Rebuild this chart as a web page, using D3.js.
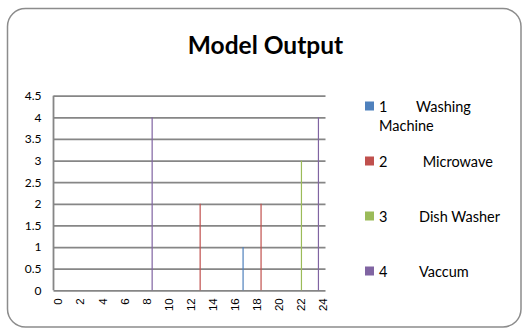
<!DOCTYPE html>
<html>
<head>
<meta charset="utf-8">
<script src="https://cdn.jsdelivr.net/npm/d3@7"></script>
<style>
  html, body { margin: 0; padding: 0; background: #fff; }
  svg { display: block; }
</style>
</head>
<body>
<svg id="chart" width="522" height="329"></svg>
<script>
// ---- data ----
const title = "Model Output";
const seriesNames = ["Washing Machine", "Microwave", "Dish Washer", "Vaccum"];
const seriesIds = ["1", "2", "3", "4"];
const seriesColors = ["#4F81BD", "#C0504D", "#9BBB59", "#8064A2"];
const washingX = [16.78];
const washingY = [1];
const microwaveX = [12.89, 18.41];
const microwaveY = [2, 2];
const dishX = [22.07];
const dishY = [3];
const vaccumX = [8.54, 23.61];
const vaccumY = [4, 4];
const xTicks = [0, 2, 4, 6, 8, 10, 12, 14, 16, 18, 20, 22, 24];
const yTicks = [0, 0.5, 1, 1.5, 2, 2.5, 3, 3.5, 4, 4.5];

// ---- layout ----
const svg = d3.select("#chart");
const plot = { left: 53.5, right: 325.5, top: 95.7, bottom: 290.3 };

const x = d3.scaleLinear().domain([-0.4, 24.25]).range([plot.left, plot.right]);
const y = d3.scaleLinear().domain([0, 4.5]).range([plot.bottom, plot.top]);

// outer rounded frame
svg.append("rect")
  .attr("x", 7.5).attr("y", 8.5)
  .attr("width", 513.5).attr("height", 318.5)
  .attr("rx", 18).attr("ry", 18)
  .attr("fill", "#fff")
  .attr("stroke", "#8c8c8c").attr("stroke-width", 1.5);

// title
svg.append("text")
  .attr("x", 265.5).attr("y", 54)
  .attr("text-anchor", "middle")
  .attr("font-family", "Lato, 'Open Sans', sans-serif")
  .attr("font-weight", "bold")
  .attr("font-size", 24.5)
  .attr("fill", "#000")
  .text(title);

// gridlines via y axis
const yAxis = d3.axisLeft(y).tickValues(yTicks)
  .tickSize(-(plot.right - plot.left))
  .tickFormat(d => String(d));
const gy = svg.append("g").attr("transform", `translate(${plot.left},0)`).call(yAxis);
gy.select(".domain").remove();
gy.selectAll(".tick line").attr("stroke", "#868686").attr("stroke-width", 1.8);
gy.selectAll(".tick text")
  .attr("x", -12)
  .attr("font-family", "Lato, 'Open Sans', sans-serif")
  .attr("font-size", 12)
  .attr("fill", "#000");

// left axis line
svg.append("line")
  .attr("x1", plot.left).attr("x2", plot.left)
  .attr("y1", plot.top).attr("y2", plot.bottom)
  .attr("stroke", "#868686").attr("stroke-width", 1.8);

// x axis labels
const xAxis = d3.axisBottom(x).tickValues(xTicks).tickSize(0).tickFormat(d => String(d));
const gx = svg.append("g").attr("transform", `translate(0,${plot.bottom})`).call(xAxis);
gx.select(".domain").remove();
gx.selectAll(".tick text")
  .attr("font-family", "'Liberation Sans', Arial, sans-serif")
  .attr("font-size", 11.5)
  .attr("fill", "#000")
  .attr("text-anchor", "end")
  .attr("dy", null)
  .attr("y", 0)
  .attr("transform", "translate(4,8) rotate(-90)");

// series as vertical lines
const series = [
  { xs: washingX, ys: washingY },
  { xs: microwaveX, ys: microwaveY },
  { xs: dishX, ys: dishY },
  { xs: vaccumX, ys: vaccumY }
];
series.forEach((s, i) => {
  s.xs.forEach((xv, j) => {
    svg.append("line")
      .attr("x1", x(xv)).attr("x2", x(xv))
      .attr("y1", y(0)).attr("y2", y(s.ys[j]))
      .attr("stroke", seriesColors[i])
      .attr("stroke-width", 1.2);
  });
});

// legend
const legendTop = 106, legendStep = 55;
const nameDx = [416, 422.7, 419, 419];
seriesNames.forEach((name, i) => {
  const cy = legendTop + i * legendStep;
  const g = svg.append("g");
  g.append("rect")
    .attr("x", 365).attr("y", cy - 4.5)
    .attr("width", 9).attr("height", 9)
    .attr("fill", seriesColors[i]);
  const t = g.append("text")
    .attr("font-family", "Lato, 'Open Sans', sans-serif")
    .attr("font-size", 14.5)
    .attr("fill", "#000");
  t.append("tspan").attr("x", 379).attr("y", cy + 5.5).text(seriesIds[i]);
  const words = name.split(" ");
  if (i === 0) {
    t.append("tspan").attr("x", nameDx[i]).attr("y", cy + 5.5).text(words[0]);
    t.append("tspan").attr("x", 379).attr("y", cy + 24.5).text(words.slice(1).join(" "));
  } else {
    t.append("tspan").attr("x", nameDx[i]).attr("y", cy + 5.5).text(name);
  }
});
</script>
</body>
</html>
